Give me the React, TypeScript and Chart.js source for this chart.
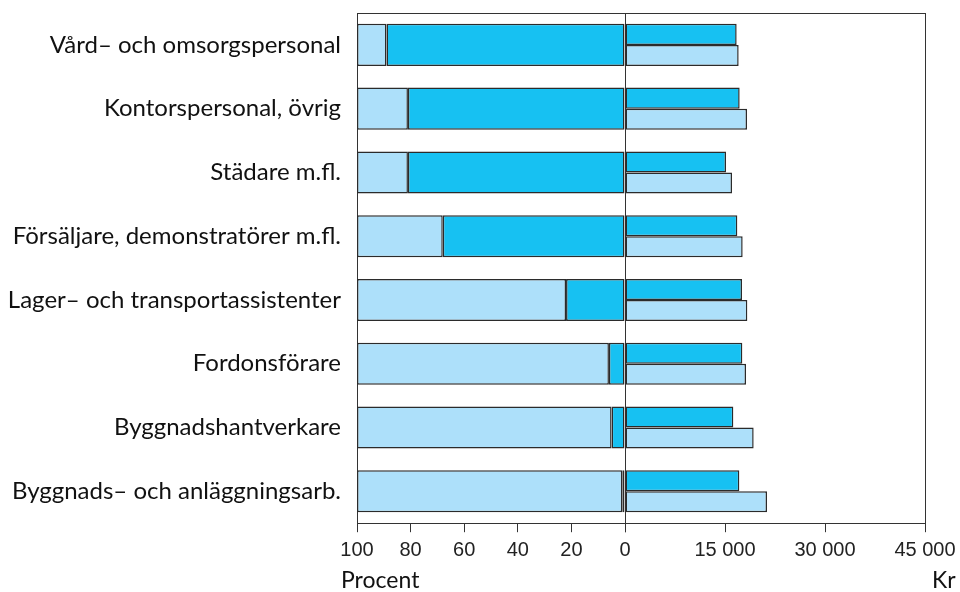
import { useEffect, useRef } from 'react';
import { Chart, registerables } from 'chart.js';

Chart.register(...registerables);

// ---- Data ----
const categories = [
  'Vård– och omsorgspersonal',
  'Kontorspersonal, övrig',
  'Städare m.fl.',
  'Försäljare, demonstratörer m.fl.',
  'Lager– och transportassistenter',
  'Fordonsförare',
  'Byggnadshantverkare',
  'Byggnads– och anläggningsarb.',
];
const womenPct = [89, 81, 81, 68, 22, 6, 5, 1];
const menPct = [11, 19, 19, 32, 78, 94, 95, 99];
const womenSalary = [16750, 17200, 15150, 16850, 17550, 17600, 16250, 17150];
const menSalary = [17050, 18300, 16050, 17650, 18350, 18150, 19300, 21300];
const pctTicks = [100, 80, 60, 40, 20, 0];
const krTicks = [0, 15000, 30000, 45000];
const pctAxisTitle = 'Procent';
const krAxisTitle = 'Kr';

// ---- Styles ----
const DARK = '#17C1F2';
const LIGHT = '#ADE0FA';
const EDGE = '#2b2b2b';
const AXIS = '#333333';
const LABEL_FONT = 'Lato, "Open Sans", sans-serif';
const TICK_FONT = '"Liberation Sans", Arial, sans-serif';

const fmtKr = (v: number) => String(v).replace(/\B(?=(\d{3})+(?!\d))/g, ' ');

const barCommon = {
  borderColor: EDGE,
  borderWidth: 1.5,
  borderSkipped: false as const,
  categoryPercentage: 0.66,
  barPercentage: 1,
};

const borderAxis = (position: 'top' | 'right' | 'left', size: number) => ({
  type: 'linear' as const,
  position,
  display: true,
  ticks: { display: false },
  grid: { display: false, drawTicks: false },
  border: { display: true, color: AXIS, width: 1 },
  afterFit: (s: any) => {
    if (position === 'top') s.height = size;
    else s.width = size;
    s.paddingTop = 0;
    s.paddingBottom = 0;
    s.paddingLeft = 0;
    s.paddingRight = 0;
  },
});

const bottomAxis = (extra: any) => ({
  type: 'linear' as const,
  position: 'bottom' as const,
  afterFit: (s: any) => {
    s.height = 68.8;
    s.paddingLeft = 0;
    s.paddingRight = 0;
  },
  grid: { display: true, drawOnChartArea: false, drawTicks: true, tickLength: 9, color: AXIS, lineWidth: 1 },
  border: { display: true, color: AXIS, width: 1 },
  ...extra,
});

const tickOpts = { font: { family: TICK_FONT, size: 20 }, color: '#222', padding: 6, maxRotation: 0, autoSkip: false };

export default function App() {
  const leftRef = useRef<HTMLCanvasElement>(null);
  const rightRef = useRef<HTMLCanvasElement>(null);

  useEffect(() => {
    if (!leftRef.current || !rightRef.current) return;

    const left = new Chart(leftRef.current, {
      type: 'bar',
      data: {
        labels: categories,
        datasets: [
          { label: 'Kvinnor', data: womenPct, backgroundColor: DARK, xAxisID: 'x', yAxisID: 'y', ...barCommon },
          { label: 'Män', data: menPct, backgroundColor: LIGHT, xAxisID: 'x', yAxisID: 'y', ...barCommon },
        ],
      },
      options: {
        indexAxis: 'y',
        animation: false,
        responsive: false,
        maintainAspectRatio: false,
        layout: { padding: { top: 13, right: 20, left: 0, bottom: 0 } },
        plugins: {
          legend: { display: false },
          tooltip: { enabled: false },
        },
        scales: {
          x: bottomAxis({
            reverse: true,
            min: 0,
            max: 100,
            stacked: true,
            afterBuildTicks: (s: any) => {
              s.ticks = pctTicks.map((v) => ({ value: v }));
            },
            ticks: tickOpts,
          }) as any,
          xTop: borderAxis('top', 0) as any,
          y: {
            type: 'category',
            position: 'left',
            stacked: true,
            afterFit: (s: any) => {
              s.width = 357;
              s.paddingTop = 0;
              s.paddingBottom = 0;
            },
            grid: { display: false, drawTicks: false },
            border: { display: true, color: AXIS, width: 1 },
            ticks: { font: { family: LABEL_FONT, size: 24 }, color: '#111', padding: 16, autoSkip: false },
          },
        },
      },
    });

    const right = new Chart(rightRef.current, {
      type: 'bar',
      data: {
        labels: categories,
        datasets: [
          { label: 'Kvinnor', data: womenSalary, backgroundColor: DARK, xAxisID: 'x', yAxisID: 'y', ...barCommon },
          { label: 'Män', data: menSalary, backgroundColor: LIGHT, xAxisID: 'x', yAxisID: 'y', ...barCommon },
        ],
      },
      options: {
        indexAxis: 'y',
        animation: false,
        responsive: false,
        maintainAspectRatio: false,
        layout: { padding: { top: 13, right: 5, left: 20, bottom: 0 } },
        plugins: {
          legend: { display: false },
          tooltip: { enabled: false },
        },
        scales: {
          x: bottomAxis({
            min: 0,
            max: 45000,
            afterBuildTicks: (s: any) => {
              s.ticks = krTicks.map((v) => ({ value: v }));
            },
            ticks: {
              ...tickOpts,
              callback: (v: any) => (Number(v) === 0 ? '' : fmtKr(Number(v))),
            },
          }) as any,
          xTop: borderAxis('top', 0) as any,
          y: {
            type: 'category',
            position: 'left',
            afterFit: (s: any) => {
              s.width = 0;
              s.paddingTop = 0;
              s.paddingBottom = 0;
            },
            grid: { display: false, drawTicks: false },
            border: { display: true, color: AXIS, width: 1 },
            ticks: { display: false },
          },
          y2: borderAxis('right', 30) as any,
        },
      },
    });

    return () => {
      left.destroy();
      right.destroy();
    };
  }, []);

  const titleStyle = {
    position: 'absolute' as const,
    top: 566,
    height: 26,
    lineHeight: '26px',
    fontFamily: LABEL_FONT,
    fontSize: 23,
    color: '#111',
    whiteSpace: 'nowrap' as const,
  };

  return (
    <div style={{ position: 'absolute', left: 0, top: 0, width: 960, height: 592, background: '#fff' }}>
      <canvas
        ref={leftRef}
        width={645}
        height={592}
        style={{ position: 'absolute', left: 0, top: 0, display: 'block' }}
      />
      <canvas
        ref={rightRef}
        width={355}
        height={592}
        style={{ position: 'absolute', left: 605, top: 0, display: 'block' }}
      />
      <div style={{ ...titleStyle, left: 341 }}>{pctAxisTitle}</div>
      <div style={{ ...titleStyle, left: 932 }}>{krAxisTitle}</div>
    </div>
  );
}
